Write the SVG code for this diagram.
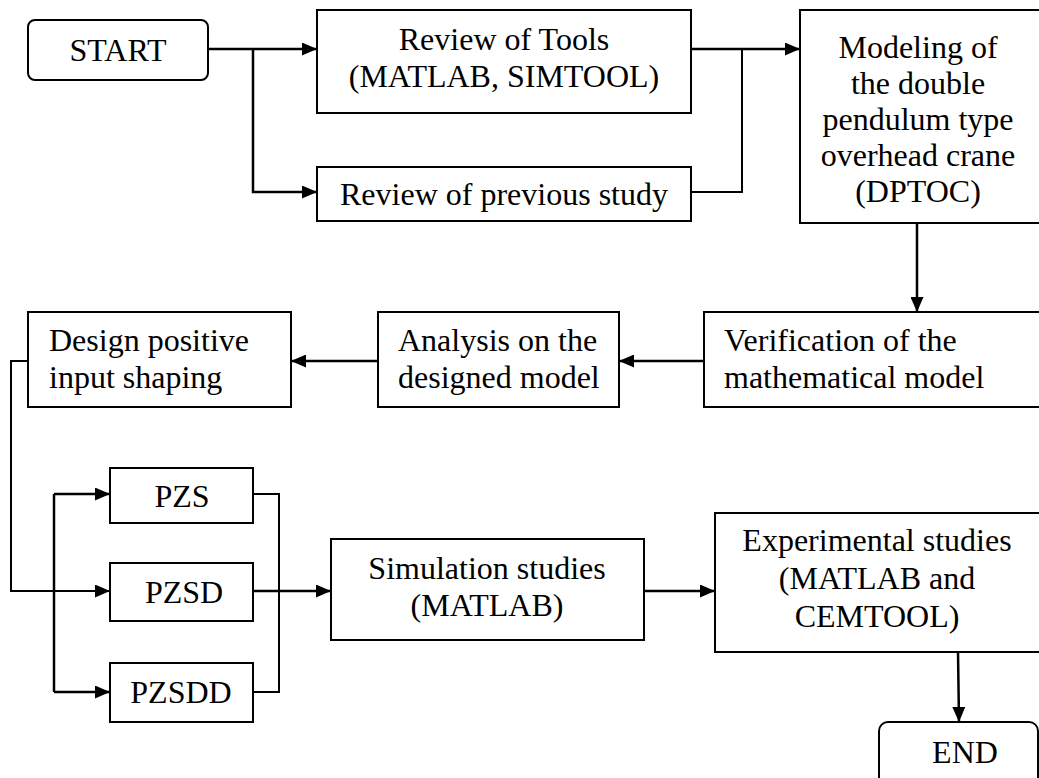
<svg xmlns="http://www.w3.org/2000/svg" width="1039" height="778" viewBox="0 0 1039 778">
<style>
.box{fill:#fff;stroke:#000;stroke-width:2}
.t{font-family:"Liberation Serif","Times New Roman",serif;font-size:32px;fill:#000}
.c{text-anchor:middle}
.ln{fill:none;stroke:#000;stroke-width:2.5}
.thin{fill:none;stroke:#000;stroke-width:2}
</style>
<defs>
<marker id="ah" viewBox="0 0 15 13" refX="15" refY="6.5" markerWidth="15" markerHeight="13" markerUnits="userSpaceOnUse" orient="auto">
<path d="M0,0 L15,6.5 L0,13 z" fill="#000"/>
</marker>
</defs>
<rect width="1039" height="778" fill="#fff"/>
<g id="connectors">
<path class="ln" d="M208,49 H317" marker-end="url(#ah)"/>
<path class="ln" d="M253,49 V192 H317" marker-end="url(#ah)"/>
<path class="ln" d="M691,49 H800" marker-end="url(#ah)"/>
<path class="thin" d="M691,192 H742 V49"/>
<path class="ln" d="M917,223 V312" marker-end="url(#ah)"/>
<path class="ln" d="M704,361 H619" marker-end="url(#ah)"/>
<path class="ln" d="M378,361 H291" marker-end="url(#ah)"/>
<path class="thin" d="M28,361 H11 V591 H110" marker-end="url(#ah)"/>
<path class="ln" d="M54,494 V692"/>
<path class="ln" d="M54,494 H110" marker-end="url(#ah)"/>
<path class="ln" d="M54,692 H110" marker-end="url(#ah)"/>
<path class="thin" d="M253,494 H279 V692 H253"/>
<path class="ln" d="M253,591 H331" marker-end="url(#ah)"/>
<path class="ln" d="M644,591 H715" marker-end="url(#ah)"/>
<path class="ln" d="M958,652 L959,722" marker-end="url(#ah)"/>
</g>
<g id="start">
<rect class="box" x="28" y="20" width="180" height="60" rx="7"/>
<text class="t c" x="118" y="61">START</text>
</g>
<g id="review-tools">
<rect class="box" x="317" y="10" width="374" height="103"/>
<text class="t c" x="504" y="50">Review of Tools</text>
<text class="t c" x="504" y="87">(MATLAB, SIMTOOL)</text>
</g>
<g id="review-previous">
<rect class="box" x="317" y="167" width="374" height="54"/>
<text class="t c" x="504" y="205">Review of previous study</text>
</g>
<g id="modeling">
<rect class="box" x="800" y="10" width="242" height="213"/>
<text class="t c" x="918" y="58">Modeling of</text>
<text class="t c" x="918" y="94">the double</text>
<text class="t c" x="918" y="130">pendulum type</text>
<text class="t c" x="918" y="166">overhead crane</text>
<text class="t c" x="918" y="202">(DPTOC)</text>
</g>
<g id="verification">
<rect class="box" x="704" y="312" width="338" height="95"/>
<text class="t" x="724" y="351">Verification of the</text>
<text class="t" x="724" y="388">mathematical model</text>
</g>
<g id="analysis">
<rect class="box" x="378" y="312" width="241" height="95"/>
<text class="t" x="398" y="351">Analysis on the</text>
<text class="t" x="398" y="388">designed model</text>
</g>
<g id="design">
<rect class="box" x="28" y="312" width="263" height="95"/>
<text class="t" x="49" y="351">Design positive</text>
<text class="t" x="49" y="388">input shaping</text>
</g>
<g id="pzs">
<rect class="box" x="110" y="468" width="143" height="55"/>
<text class="t c" x="182" y="507">PZS</text>
</g>
<g id="pzsd">
<rect class="box" x="110" y="563" width="143" height="58"/>
<text class="t c" x="184" y="603">PZSD</text>
</g>
<g id="pzsdd">
<rect class="box" x="110" y="663" width="143" height="59"/>
<text class="t c" x="181" y="703">PZSDD</text>
</g>
<g id="simulation">
<rect class="box" x="331" y="539" width="313" height="101"/>
<text class="t c" x="487" y="579">Simulation studies</text>
<text class="t c" x="487" y="616">(MATLAB)</text>
</g>
<g id="experimental">
<rect class="box" x="715" y="513" width="327" height="139"/>
<text class="t c" x="877" y="551">Experimental studies</text>
<text class="t c" x="877" y="589">(MATLAB and</text>
<text class="t c" x="877" y="627">CEMTOOL)</text>
</g>
<g id="end">
<rect class="box" x="879" y="722" width="159" height="90" rx="9"/>
<text class="t c" x="965" y="763">END</text>
</g>
</svg>
